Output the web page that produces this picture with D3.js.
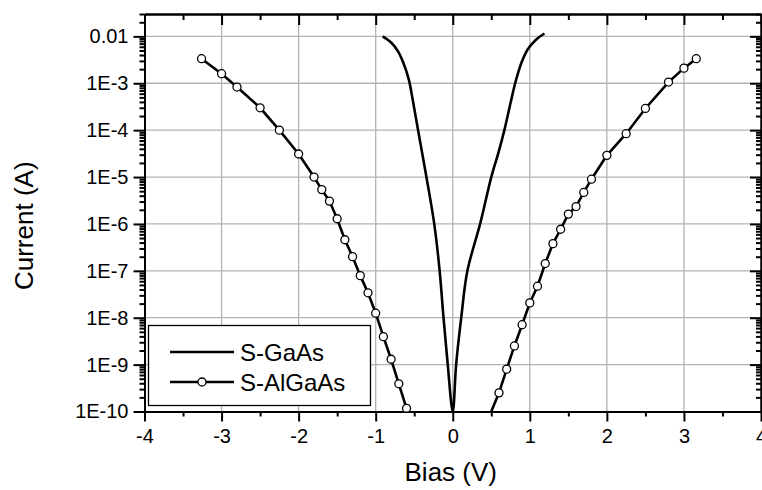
<!DOCTYPE html>
<html>
<head>
<meta charset="utf-8">
<script src="https://cdn.jsdelivr.net/npm/d3@7"></script>
<style>
body{margin:0;background:#fff;}
text{font-family:"Liberation Sans",Arial,Helvetica,sans-serif;fill:#000;}
</style>
</head>
<body>
<script>
//axis ticks
var biasTicks = [-4, -3, -2, -1, 0, 1, 2, 3, 4];
var currentTicks = [1e-10, 1e-9, 1e-8, 1e-7, 1e-6, 1e-5, 1e-4, 1e-3, 1e-2];
var currentTickLabels = ["1E-10", "1E-9", "1E-8", "1E-7", "1E-6", "1E-5", "1E-4", "1E-3", "0.01"];

//S-GaAs curve
var gaasBias = [-0.91, -0.80, -0.71, -0.64, -0.57, -0.52, -0.45, -0.39, -0.32, -0.24, -0.17, -0.12, -0.065, 0.0,
    0.044, 0.11, 0.19, 0.355, 0.50, 0.595, 0.67, 0.75, 0.81, 0.89, 0.97, 1.08, 1.19];
var gaasCurrent = [1.0e-2, 7.4e-3, 4.8e-3, 2.7e-3, 1.2e-3, 4.5e-4, 1.0e-4, 2.8e-5, 6.3e-6, 1.0e-6, 1.0e-7, 1.0e-8, 1.0e-9, 1.0e-10,
    1.0e-9, 1.0e-8, 1.0e-7, 1.0e-6, 1.0e-5, 3.4e-5, 1.0e-4, 3.8e-4, 1.0e-3, 2.7e-3, 5.2e-3, 8.5e-3, 1.15e-2];

//S-AlGaAs, reverse branch
var algaasNegBias = [-3.26, -3.0, -2.8, -2.5, -2.25, -2.0, -1.8, -1.7, -1.6, -1.5, -1.4, -1.3, -1.2, -1.1, -1.0, -0.9, -0.8, -0.7, -0.6];
var algaasNegCurrent = [3.34e-3, 1.6e-3, 8.3e-4, 3.0e-4, 1.0e-4, 3.1e-5, 1.0e-5, 5.4e-6, 3.07e-6, 1.29e-6, 4.6e-7, 2.0e-7, 7.9e-8, 3.4e-8, 1.25e-8, 3.95e-9, 1.3e-9, 3.9e-10, 1.17e-10];

//S-AlGaAs, forward branch
var algaasPosBias = [0.5, 0.6, 0.7, 0.8, 0.9, 1.0, 1.1, 1.2, 1.3, 1.4, 1.5, 1.6, 1.7, 1.8, 2.0, 2.25, 2.5, 2.8, 3.0, 3.16];
var algaasPosCurrent = [1.0e-10, 2.5e-10, 8.0e-10, 2.5e-9, 7.1e-9, 2.07e-8, 4.7e-8, 1.43e-7, 3.8e-7, 7.7e-7, 1.62e-6, 2.35e-6, 4.7e-6, 9.0e-6, 2.9e-5, 8.4e-5, 2.9e-4, 1.06e-3, 2.1e-3, 3.34e-3];

var legendNames = ["S-GaAs", "S-AlGaAs"];

drawChart();

function drawChart(){
    var width = 762, height = 490;
    var pLeft = 144.5, pRight = 761, pTop = 14, pBottom = 411.5;

    var svg = d3.select("body").append("svg")
        .attr("width", width)
        .attr("height", height);

    var x = d3.scaleLinear().domain([-4, 4]).range([pLeft, pRight]);
    var y = d3.scaleLog().domain([1e-10, 0.03]).range([pBottom, pTop]);

    //minor log ticks
    var minorY = [];
    currentTicks.forEach(function(d){
        for (var k = 2; k <= 9; k++){
            var v = d * k;
            if (v <= 0.03) minorY.push(v);
        }
    });
    var minorX = d3.range(-3.5, 4, 1);

    svg.append("defs").append("clipPath").attr("id", "plot")
        .append("rect").attr("x", pLeft).attr("y", pTop)
        .attr("width", pRight - pLeft).attr("height", pBottom - pTop);

    //grid
    var grid = svg.append("g").attr("stroke", "#b3b3b3").attr("stroke-width", 1.3);
    grid.selectAll(".gx").data(biasTicks.slice(1, -1)).enter().append("line")
        .attr("x1", function(d){ return x(d); }).attr("x2", function(d){ return x(d); })
        .attr("y1", pTop).attr("y2", pBottom);
    grid.selectAll(".gy").data(currentTicks.slice(1)).enter().append("line")
        .attr("x1", pLeft).attr("x2", pRight)
        .attr("y1", function(d){ return y(d); }).attr("y2", function(d){ return y(d); });

    //axes
    var fmtY = function(d){ return currentTickLabels[currentTicks.indexOf(d)]; };
    var fmtX = function(d){ return (d < 0 ? "-" : "") + Math.abs(d); };

    function styleAxis(g){
        g.select(".domain").attr("stroke", "#000").attr("stroke-width", 2);
        g.selectAll(".tick line").attr("stroke", "#000").attr("stroke-width", 2);
        g.selectAll(".tick text").style("font-size", "20px");
    }

    svg.append("g").attr("transform", "translate(0," + pBottom + ")")
        .call(d3.axisBottom(x).tickValues(minorX).tickSize(5).tickSizeOuter(0).tickFormat(""))
        .call(styleAxis);
    svg.append("g").attr("transform", "translate(0," + pBottom + ")")
        .call(d3.axisBottom(x).tickValues(biasTicks).tickSize(10).tickSizeOuter(0).tickPadding(7).tickFormat(fmtX))
        .call(styleAxis);

    svg.append("g").attr("transform", "translate(0," + pTop + ")")
        .call(d3.axisTop(x).tickValues(minorX).tickSize(-6).tickSizeOuter(0).tickFormat(""))
        .call(styleAxis);
    svg.append("g").attr("transform", "translate(0," + pTop + ")")
        .call(d3.axisTop(x).tickValues(biasTicks).tickSize(-11).tickSizeOuter(0).tickFormat(""))
        .call(styleAxis);

    svg.append("g").attr("transform", "translate(" + pLeft + ",0)")
        .call(d3.axisLeft(y).tickValues(minorY).tickSize(5).tickSizeOuter(0).tickFormat(""))
        .call(styleAxis);
    svg.append("g").attr("transform", "translate(" + pLeft + ",0)")
        .call(d3.axisLeft(y).tickValues(currentTicks).tickSize(11).tickSizeOuter(0).tickPadding(5).tickFormat(fmtY))
        .call(styleAxis);

    svg.append("g").attr("transform", "translate(" + pRight + ",0)")
        .call(d3.axisRight(y).tickValues(minorY).tickSize(-5).tickSizeOuter(0).tickFormat(""))
        .call(styleAxis);
    svg.append("g").attr("transform", "translate(" + pRight + ",0)")
        .call(d3.axisRight(y).tickValues(currentTicks).tickSize(-11).tickSizeOuter(0).tickFormat(""))
        .call(styleAxis);

    //axis titles
    svg.append("text").attr("x", (pLeft + pRight) / 2 - 2).attr("y", 481)
        .attr("text-anchor", "middle").style("font-size", "26px").text("Bias (V)");
    svg.append("text").attr("transform", "translate(33," + ((pTop + pBottom) / 2 + 13) + ") rotate(-90)")
        .attr("text-anchor", "middle").style("font-size", "26px").text("Current (A)");

    //data
    var plot = svg.append("g").attr("clip-path", "url(#plot)");

    var line = d3.line()
        .x(function(d){ return x(d[0]); })
        .y(function(d){ return y(d[1]); });

    var gaas = d3.zip(gaasBias, gaasCurrent);
    plot.append("path").datum(gaas)
        .attr("fill", "none").attr("stroke", "#000").attr("stroke-width", 2.6)
        .attr("d", line.curve(d3.curveCatmullRom.alpha(0.5)));

    var branches = [d3.zip(algaasNegBias, algaasNegCurrent), d3.zip(algaasPosBias, algaasPosCurrent)];
    line.curve(d3.curveLinear);
    branches.forEach(function(b){
        plot.append("path").datum(b)
            .attr("fill", "none").attr("stroke", "#000").attr("stroke-width", 2.6)
            .attr("d", line);
        plot.selectAll(null).data(b.filter(function(d){ return d[1] > 1.05e-10; })).enter().append("circle")
            .attr("cx", function(d){ return x(d[0]); })
            .attr("cy", function(d){ return y(d[1]); })
            .attr("r", 4)
            .attr("fill", "#fff").attr("stroke", "#000").attr("stroke-width", 1.3);
    });

    //legend
    var legend = svg.append("g");
    legend.append("rect").attr("x", 148.5).attr("y", 325.5).attr("width", 222).attr("height", 80)
        .attr("fill", "#fff").attr("stroke", "#000").attr("stroke-width", 1.3);
    legendNames.forEach(function(name, i){
        var ly = 352 + i * 30;
        legend.append("line").attr("x1", 170).attr("x2", 234).attr("y1", ly).attr("y2", ly)
            .attr("stroke", "#000").attr("stroke-width", 2.6);
        if (i == 1){
            legend.append("circle").attr("cx", 202).attr("cy", ly).attr("r", 4)
                .attr("fill", "#fff").attr("stroke", "#000").attr("stroke-width", 1.3);
        }
        legend.append("text").attr("x", 240).attr("y", ly + 8.5).style("font-size", "24px").text(name);
    });
}
</script>
</body>
</html>
